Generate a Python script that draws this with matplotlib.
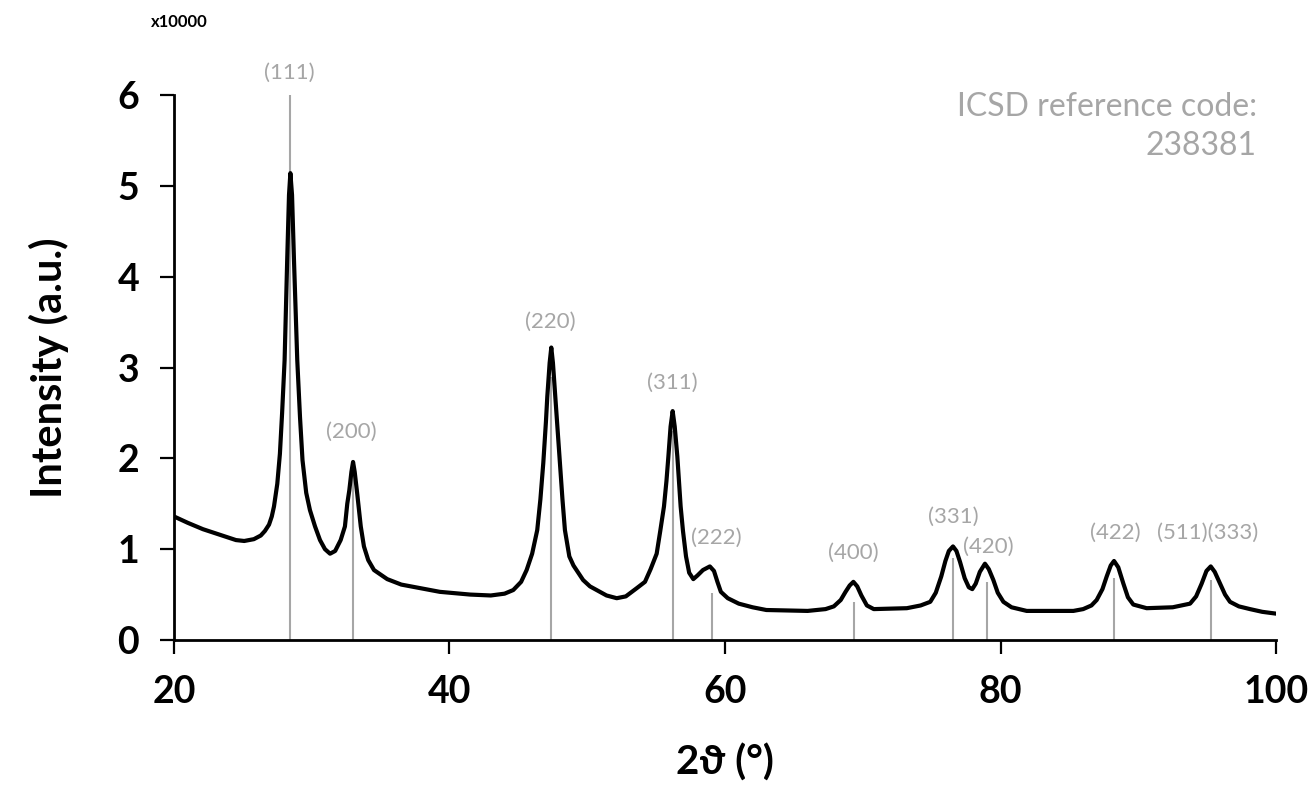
import matplotlib
matplotlib.use("Agg")
import matplotlib.pyplot as plt

plt.rcParams['font.family'] = ['Lato', 'DejaVu Sans']

# measured pattern, intensity in units of 10^4 counts
two_theta = [20.0, 21.0, 22.1, 23.5, 24.5, 25.1, 25.8, 26.3, 26.6, 26.9,
             27.1, 27.26, 27.5, 27.69, 27.85, 28.03, 28.22, 28.35, 28.45, 28.57,
             28.71, 28.95, 29.15, 29.33, 29.6, 29.87, 30.24, 30.6, 30.96, 31.33,
             31.7, 32.1, 32.41, 32.58, 32.73, 32.88, 33.0, 33.12, 33.31, 33.45,
             33.56, 33.79, 34.1, 34.52, 35.48, 36.5, 37.9, 39.3, 41.5, 43.0,
             44.0, 44.63, 45.2, 45.6, 46.0, 46.37, 46.6, 46.81, 47.0, 47.1,
             47.27, 47.39, 47.51, 47.68, 47.85, 48.02, 48.2, 48.38, 48.7, 49.0,
             49.22, 49.7, 50.2, 50.68, 51.4, 52.14, 52.8, 53.59, 54.19, 54.6,
             55.04, 55.3, 55.57, 55.75, 55.89, 56.05, 56.2, 56.35, 56.54, 56.66,
             56.78, 56.95, 57.17, 57.4, 57.7, 58.0, 58.4, 58.9, 59.2, 59.45,
             59.7, 60.2, 61.0, 62.0, 63.0, 66.0, 67.3, 67.9, 68.4, 68.75,
             69.05, 69.32, 69.6, 69.9, 70.3, 70.8, 73.2, 74.2, 74.9, 75.3,
             75.7, 76.0, 76.25, 76.55, 76.8, 77.06, 77.4, 77.7, 77.95, 78.2,
             78.5, 78.87, 79.15, 79.48, 79.8, 80.21, 80.8, 81.9, 85.29, 86.0,
             86.6, 86.98, 87.4, 87.71, 88.0, 88.24, 88.55, 88.92, 89.25, 89.64,
             90.61, 92.5, 93.76, 94.2, 94.6, 94.95, 95.26, 95.55, 95.94, 96.3,
             96.66, 97.3, 98.11, 99.0, 100.0]
intensity = [1.36, 1.29, 1.22, 1.15, 1.10, 1.09, 1.11, 1.15, 1.20, 1.27,
             1.36, 1.47, 1.72, 2.05, 2.50, 3.08, 4.19, 4.90, 5.14, 4.90,
             4.19, 3.08, 2.45, 1.98, 1.62, 1.43, 1.25, 1.10, 1.00, 0.95,
             0.98, 1.10, 1.25, 1.50, 1.65, 1.85, 1.96, 1.85, 1.60, 1.40,
             1.25, 1.03, 0.88, 0.77, 0.67, 0.61, 0.57, 0.53, 0.50, 0.49,
             0.51, 0.55, 0.64, 0.77, 0.95, 1.21, 1.55, 1.95, 2.40, 2.68,
             3.05, 3.22, 3.05, 2.68, 2.30, 1.95, 1.55, 1.21, 0.92, 0.82,
             0.77, 0.66, 0.59, 0.55, 0.49, 0.46, 0.48, 0.57, 0.64, 0.78,
             0.95, 1.20, 1.47, 1.75, 2.02, 2.35, 2.52, 2.35, 2.02, 1.75,
             1.47, 1.20, 0.92, 0.74, 0.67, 0.71, 0.77, 0.81, 0.76, 0.64,
             0.53, 0.46, 0.40, 0.36, 0.33, 0.32, 0.34, 0.37, 0.44, 0.53,
             0.60, 0.64, 0.59, 0.49, 0.38, 0.34, 0.35, 0.38, 0.42, 0.52,
             0.70, 0.87, 0.98, 1.03, 0.98, 0.86, 0.68, 0.58, 0.56, 0.62,
             0.75, 0.84, 0.78, 0.66, 0.52, 0.42, 0.36, 0.32, 0.32, 0.34,
             0.38, 0.44, 0.56, 0.70, 0.82, 0.87, 0.80, 0.62, 0.47, 0.39,
             0.35, 0.36, 0.40, 0.48, 0.62, 0.76, 0.81, 0.75, 0.62, 0.50,
             0.42, 0.37, 0.34, 0.31, 0.29]

# reference reflections (ICSD 238381)
ref_pos = [28.45, 32.97, 47.39, 56.22, 59.03, 69.34, 76.55, 79.02, 88.24, 95.26]
ref_height = [6.0, 1.8, 2.9, 2.3, 0.52, 0.42, 0.9, 0.64, 0.68, 0.66]
hkl = ['(111)', '(200)', '(220)', '(311)', '(222)', '(400)', '(331)', '(420)',
       '(422)', '(511)(333)']
hkl_x = [28.4, 32.9, 47.3, 56.2, 59.4, 69.3, 76.6, 79.1, 88.3, 95.0]
hkl_y = [6.24, 2.29, 3.50, 2.83, 1.12, 0.96, 1.36, 1.03, 1.18, 1.18]

grey = '#a6a6a6'

fig = plt.figure(figsize=(13.14, 7.9), dpi=100)
ax = fig.add_axes([0.1324, 0.1899, 0.8387, 0.6898])

ax.vlines(ref_pos, 0, ref_height, color=grey, lw=1.5, zorder=1)
ax.plot(two_theta, intensity, color='black', lw=3, zorder=3,
        solid_joinstyle='round', solid_capstyle='round')

for lab, x, y in zip(hkl, hkl_x, hkl_y):
    ax.text(x, y, lab, color=grey, fontsize=16, ha='center', va='center')

# reference code, two right-aligned lines
fig.text(0.9566, 1 - 116 / 790, 'ICSD reference code:', ha='right',
         va='baseline', color=grey, fontsize=23)
fig.text(0.9566, 1 - 155 / 790, '238381', ha='right', va='baseline',
         color=grey, fontsize=23)

ax.set_xlim(20, 100)
ax.set_ylim(0, 6)
ax.set_xticks([20, 40, 60, 80, 100])
ax.set_yticks(range(7))
for s in ['top', 'right']:
    ax.spines[s].set_visible(False)
for s in ['left', 'bottom']:
    ax.spines[s].set_linewidth(2)
ax.tick_params(direction='out', length=10, width=1.6, labelsize=27)
ax.tick_params(axis='x', pad=15)
ax.tick_params(axis='y', pad=15)
for t in ax.get_xticklabels() + ax.get_yticklabels():
    t.set_fontweight('bold')

ax.set_xlabel('2ϑ (°)', fontsize=29, fontweight='bold')
ax.set_ylabel('Intensity (a.u.)', fontsize=30, fontweight='bold')
ax.xaxis.set_label_coords(0.5, -0.19)
ax.yaxis.set_label_coords(-0.095, 0.5)
fig.text(0.115, 0.972, 'x10000', fontsize=12, fontweight='bold', va='center')

fig.savefig('out.png', dpi=100)
